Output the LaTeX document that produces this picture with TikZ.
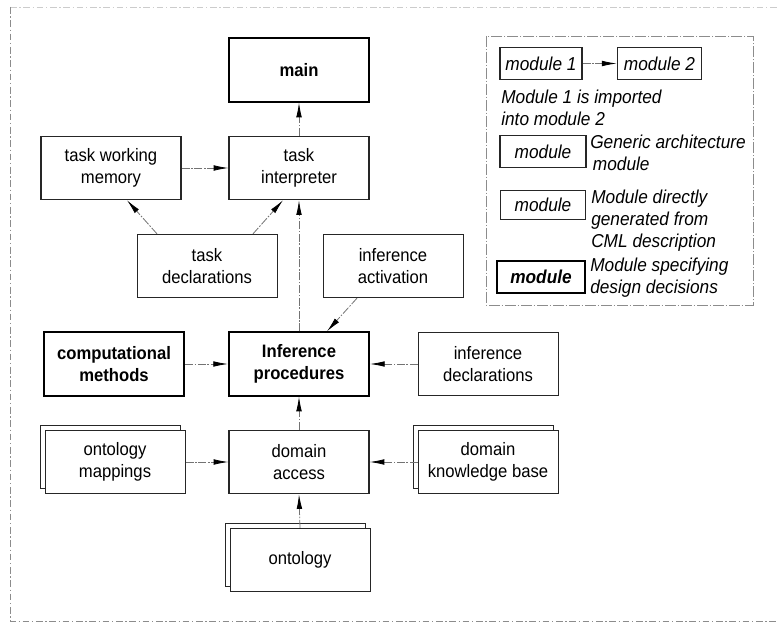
\documentclass[tikz,border=0pt]{standalone}
\usepackage{fontspec}
\setmainfont{Liberation Sans}[FakeStretch=0.925]
\usetikzlibrary{arrows.meta}
\begin{document}
\begin{tikzpicture}[x=0.75pt,y=-0.75pt,
  every node/.style={font=\fontsize{13.5pt}{16pt}\selectfont},
  modbox/.style={draw=black!85, line width=0.9pt, fill=white, inner sep=0pt,
    minimum width=105pt, minimum height=47.5pt, align=center},
  cmlbox/.style={modbox, line width=0.75pt},
  designbox/.style={modbox, draw=black, line width=1.5pt,
    font=\fontsize{13.5pt}{16pt}\selectfont\bfseries},
  backbox/.style={draw=black!85, line width=0.75pt, fill=white, inner sep=0pt,
    minimum width=105pt, minimum height=47.5pt},
  imp/.style={draw=black!55, line width=0.6pt,
    dash pattern=on 6pt off 1.2pt on 1.2pt off 1.2pt,
    -{Latex[length=11pt,width=4.2pt,black]}},
  frame/.style={draw=black!45, line width=0.6pt,
    dash pattern=on 5pt off 2pt on 1pt off 2pt},
  legframe/.style={draw=black!45, line width=0.6pt,
    dash pattern=on 8pt off 1.5pt on 1pt off 1.5pt},
  legbox/.style={draw=black!85, line width=0.8pt, fill=white, inner sep=0pt,
    font=\fontsize{14pt}{16.5pt}\selectfont\itshape},
  legtext/.style={font=\fontsize{14pt}{16.5pt}\selectfont\itshape, inner sep=0pt,
    anchor=north west, align=left}
]
\useasboundingbox (0,0) rectangle (778,623);

% outer frame (open on the right, faint along the top)
\draw[frame, draw=black!20] (10,7) -- (778,7);
\draw[frame] (10,7) -- (10,621) -- (778,621);

% --- architecture modules ---
\node[designbox] (main) at (299,70)  {main};
\node[modbox]    (twm)  at (111,168) {task working\\memory};
\node[modbox]    (ti)   at (299,168) {task\\interpreter};
\node[cmlbox]    (td)   at (207,266) {task\\declarations};
\node[cmlbox]    (ia)   at (393,266) {inference\\activation};
\node[designbox] (cm)   at (114,364) {computational\\methods};
\node[designbox] (ip)   at (299,364) {Inference\\procedures};
\node[cmlbox]    (idc)  at (488,364) {inference\\declarations};

\node[backbox]   (omB)  at (110,457) {};
\node[cmlbox]    (om)   at (115,462) {ontology\\mappings};
\node[modbox]    (da)   at (299,462) {domain\\access};
\node[backbox]   (dkbB) at (483,457) {};
\node[cmlbox]    (dkb)  at (488,462) {domain\\knowledge base};
\node[backbox]   (ontB) at (295,555) {};
\node[cmlbox]    (ont)  at (300,560) {ontology};

% --- import relations ---
\draw[imp] (ti) -- (main);
\draw[imp] (twm) -- (ti);
\draw[imp] ([xshift=-37.5pt]td.north) -- ([xshift=12pt]twm.south);
\draw[imp] ([xshift=34.5pt]td.north) -- ([xshift=-12pt]ti.south);
\draw[imp] (ip.north) -- (ti.south);
\draw[imp] ([xshift=-27pt]ia.south) -- ([xshift=21pt]ip.north);
\draw[imp] (cm) -- (ip);
\draw[imp] (idc) -- (ip);
\draw[imp] (da) -- (ip);
\draw[imp] (om) -- (da);
\draw[imp] (dkb) -- (da);
\draw[imp] (ont.north) -- (da.south);

% --- legend ---
\draw[legframe] (486,36) rectangle (753,305);
\node[legbox, minimum width=61.5pt, minimum height=23.5pt] (m1) at (541,63.5) {module 1};
\node[legbox, minimum width=63.5pt, minimum height=23.5pt] (m2) at (659.5,63.5) {module 2};
\draw[imp] (m1) -- (m2);
\node[legtext] (t1) at (501,90) {Module 1 is imported\\into module 2};

\node[legbox, minimum width=64.5pt, minimum height=23.5pt] (lg) at (543,151.5) {module};
\node[legtext] (t2) at (590,135) {Generic architecture\\\hspace*{2pt}module};

\node[legbox, line width=0.65pt, minimum width=64pt, minimum height=22pt] (lc) at (543,205) {module};
\node[legtext] (t3) at (591,190) {Module directly\\generated from\\CML description};

\node[legbox, draw=black, line width=1.5pt, minimum width=66pt, minimum height=24pt,
  font=\fontsize{14pt}{16.5pt}\selectfont\bfseries\itshape] (ld) at (541,277) {module};
\node[legtext] (t4) at (590,258) {Module specifying\\design decisions};
\end{tikzpicture}
\end{document}
